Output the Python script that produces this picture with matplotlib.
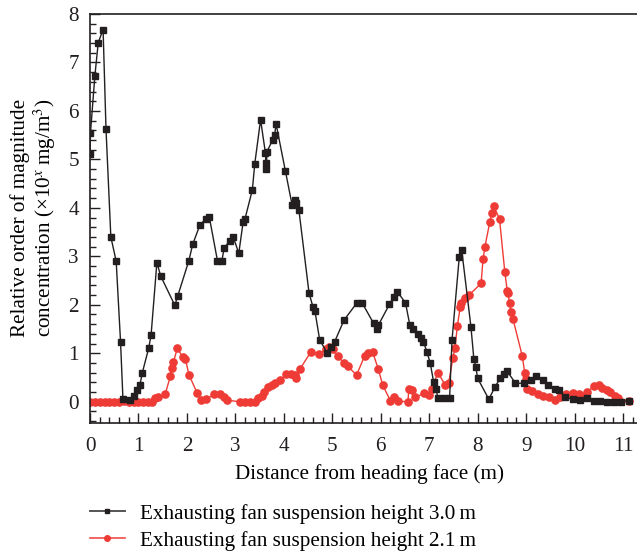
import matplotlib
matplotlib.use("Agg")
import matplotlib.pyplot as plt
from matplotlib.ticker import MultipleLocator
from matplotlib.lines import Line2D

plt.rcParams['font.family'] = ['Liberation Serif', 'DejaVu Serif']
plt.rcParams['mathtext.fontset'] = 'stix'

# Exhausting fan suspension height 3.0 m (black squares)
x_30 = [0.0, 0.01, 0.1, 0.17, 0.27, 0.33, 0.43, 0.54, 0.63, 0.68, 0.82, 0.91, 0.96, 1.03, 1.08,
        1.21, 1.26, 1.38, 1.46, 1.75, 1.81, 2.04, 2.12, 2.27, 2.40, 2.46, 2.63, 2.72, 2.77,
        2.89, 2.96, 3.07, 3.16, 3.20, 3.35, 3.40, 3.52, 3.62, 3.63, 3.64, 3.65, 3.77, 3.81,
        3.84, 4.03, 4.17, 4.23, 4.26, 4.31, 4.52, 4.60, 4.64, 4.74, 4.90, 4.98, 5.05, 5.24,
        5.50, 5.62, 5.85, 5.92, 5.95, 6.18, 6.27, 6.34, 6.51, 6.60, 6.67, 6.77, 6.84, 6.88,
        6.95, 7.02, 7.09, 7.14, 7.18, 7.30, 7.42, 7.47, 7.62, 7.67, 7.86, 7.92, 7.96, 8.00,
        8.23, 8.36, 8.47, 8.54, 8.60, 8.78, 8.96, 9.10, 9.20, 9.34, 9.45, 9.59, 9.68, 9.80,
        9.97, 10.11, 10.25, 10.39, 10.53, 10.67, 10.81, 10.95, 11.12]
y_30 = [5.11, 5.55, 6.72, 7.41, 7.68, 5.63, 3.40, 2.90, 1.24, 0.05, 0.03, 0.11, 0.24, 0.34, 0.60,
        1.10, 1.37, 2.87, 2.59, 1.99, 2.18, 2.91, 3.25, 3.65, 3.78, 3.82, 2.91, 2.90, 3.18,
        3.32, 3.39, 3.06, 3.71, 3.78, 4.37, 4.91, 5.82, 5.13, 4.92, 4.80, 5.16, 5.40, 5.51,
        5.73, 4.77, 4.06, 4.16, 4.09, 3.96, 2.24, 1.96, 1.88, 1.27, 1.00, 1.13, 1.24, 1.68,
        2.03, 2.03, 1.62, 1.51, 1.58, 2.01, 2.17, 2.27, 2.04, 1.58, 1.51, 1.39, 1.31, 1.24,
        1.03, 0.80, 0.41, 0.27, 0.07, 0.07, 0.07, 1.27, 2.99, 3.13, 1.55, 0.89, 0.72, 0.48,
        0.05, 0.31, 0.49, 0.58, 0.64, 0.38, 0.38, 0.44, 0.53, 0.44, 0.35, 0.27, 0.24, 0.09,
        0.05, 0.03, 0.07, 0.02, 0.02, 0.00, 0.00, 0.00, 0.02]

# Exhausting fan suspension height 2.1 m (red circles)
x_21 = [0.0, 0.1, 0.2, 0.3, 0.4, 0.5, 0.6, 0.7, 0.8, 0.9, 1.0, 1.1, 1.2, 1.27, 1.34, 1.40,
        1.55, 1.66, 1.69, 1.72, 1.80, 1.91, 1.97, 2.04, 2.21, 2.30, 2.39, 2.56, 2.69, 2.76,
        2.82, 3.09, 3.20, 3.30, 3.40, 3.47, 3.54, 3.60, 3.68, 3.75, 3.82, 3.93, 4.05, 4.14,
        4.22, 4.26, 4.33, 4.56, 4.72, 4.86, 4.94, 5.01, 5.11, 5.24, 5.32, 5.50, 5.67, 5.74,
        5.83, 5.95, 6.04, 6.20, 6.27, 6.35, 6.56, 6.58, 6.65, 6.70, 6.90, 6.99, 7.05, 7.18,
        7.33, 7.40, 7.49, 7.53, 7.58, 7.64, 7.66, 7.74, 7.82, 8.07, 8.11, 8.15, 8.25, 8.29,
        8.33, 8.45, 8.56, 8.61, 8.62, 8.66, 8.68, 8.73, 8.92, 8.97, 9.00, 9.02, 9.13, 9.24,
        9.34, 9.48, 9.59, 9.69, 9.83, 9.96, 10.08, 10.13, 10.25, 10.41, 10.50, 10.57, 10.66,
        10.74, 10.83, 10.90, 11.12]
y_21 = [0.0, 0.0, 0.0, 0.0, 0.0, 0.0, 0.0, 0.01, 0.0, 0.0, 0.0, 0.0, 0.0, 0.0, 0.07, 0.09,
        0.15, 0.53, 0.69, 0.81, 1.10, 0.93, 0.88, 0.56, 0.18, 0.03, 0.05, 0.15, 0.15, 0.10,
        0.03, 0.0, 0.0, 0.0, 0.0, 0.07, 0.11, 0.20, 0.31, 0.34, 0.38, 0.44, 0.58, 0.57,
        0.55, 0.49, 0.67, 1.03, 0.98, 1.08, 1.12, 1.08, 0.94, 0.80, 0.73, 0.55, 0.95, 1.00,
        1.03, 0.67, 0.34, 0.02, 0.10, 0.01, 0.0, 0.27, 0.25, 0.09, 0.17, 0.13, 0.27, 0.60,
        0.34, 0.38, 0.91, 1.10, 1.56, 1.96, 2.03, 2.13, 2.20, 2.44, 2.94, 3.20, 3.71, 3.89,
        4.04, 3.77, 2.67, 2.29, 2.25, 2.03, 1.86, 1.70, 0.94, 0.60, 0.46, 0.27, 0.22, 0.15,
        0.12, 0.09, 0.03, 0.10, 0.15, 0.18, 0.15, 0.11, 0.20, 0.32, 0.34, 0.29, 0.25,
        0.19, 0.12, 0.07, 0.02]

x_ticks = list(range(0, 12))
y_ticks = list(range(0, 9))

label_30 = "Exhausting fan suspension height 3.0\u2009m"
label_21 = "Exhausting fan suspension height 2.1\u2009m"

FS = 15.2
fig = plt.figure(figsize=(6.37, 5.52), dpi=100)
ax = fig.add_axes([90/637, 1 - 423/552, 1 - 90/637 + 0.02, (423 - 14)/552])

black = '#231f20'
red = '#ee3b36'
ax.plot(x_30, y_30, color=black, lw=1.0, marker='s', ms=4.8, mfc=black, mec=black, zorder=3)
ax.plot(x_21, y_21, color=red, lw=1.0, marker='o', ms=5.2, mfc=red, mec=red, zorder=2)

ax.set_xlim(0, 11.55)
ax.set_ylim(-0.44, 8)
ax.set_xticks(x_ticks)
ax.set_yticks(y_ticks)
ax.xaxis.set_minor_locator(MultipleLocator(0.2))
ax.yaxis.set_minor_locator(MultipleLocator(0.2))
ax.tick_params(which='both', direction='in', top=False, right=False, labelsize=FS, colors='#231f20')
ax.tick_params(which='major', length=7, width=1)
ax.tick_params(which='minor', length=4, width=1)
ax.tick_params(axis='x', which='major', pad=10)
ax.tick_params(axis='y', which='major', pad=8)
for s in ['left', 'top', 'bottom']:
    ax.spines[s].set_linewidth(1.2)
    ax.spines[s].set_color('#231f20')
ax.spines['right'].set_visible(False)

ax.set_xlabel("Distance from heading face (m)", fontsize=FS, labelpad=6)
fig.text(20/637, 1 - 218/552, "Relative order of magnitude", rotation=90,
         ha='center', va='center', fontsize=FS)
fig.text(45/637, 1 - 218/552, "concentration (\u00d710$^{x}$\u2009mg/m$^{3}$)", rotation=90,
         ha='center', va='center', fontsize=FS)

h1 = Line2D([], [], color='#555555', lw=1.4, marker='s', ms=3.5, mfc=black, mec=black)
h2 = Line2D([], [], color='#f04a44', lw=1.2, marker='o', ms=4.0, mfc=red, mec=red)
fig.legend(handles=[h1, h2], labels=[label_30, label_21], loc='upper left',
           bbox_to_anchor=(73/637, 1 - 487/552),
           frameon=False, fontsize=FS, handlelength=1.66, handletextpad=0.7,
           labelspacing=0.33, borderpad=0.3)

fig.savefig("out.png", dpi=100)
